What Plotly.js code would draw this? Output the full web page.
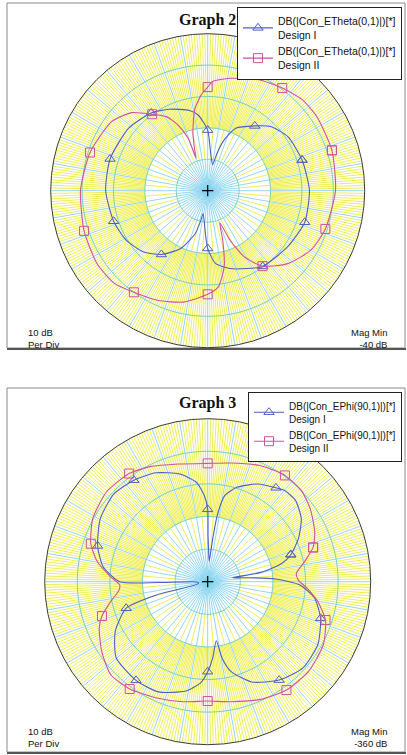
<!DOCTYPE html>
<html><head><meta charset="utf-8">
<script src="https://cdn.plot.ly/plotly-3.0.1.min.js"></script>
<style>html,body{margin:0;padding:0;background:#fff;overflow:hidden}#chart{width:407px;height:755px}</style>
</head><body><div id="chart"></div>
<script>
// ---------- data (angle in degrees, magnitude in dB) ----------
const MARKER_ANGLES = [18, 54, 90, 126, 162, 198, 234, 270, 306, 342];

const G2_NAME_I  = 'DB(|Con_ETheta(0,1)|)[*]<br>Design I';
const G2_NAME_II = 'DB(|Con_ETheta(0,1)|)[*]<br>Design II';
const G3_NAME_I  = 'DB(|Con_EPhi(90,1)|)[*]<br>Design I';
const G3_NAME_II = 'DB(|Con_EPhi(90,1)|)[*]<br>Design II';

const G2_THETA_I = [18,34,45.6,54,65.8,72,76,79.3,86.3,90,97.2,102.8,115.3,126,141.6,162,180,198,211,223.4,234,245,253.8,257,258.6,266.9,270,276.1,286,296.9,306,325,342,0.4];
const G2_DB_I    = [-8.4,-9.2,-11.4,-14.5,-18.2,-23,-27.7,-31.6,-27,-20.7,-15.7,-13.8,-11.3,-9.4,-7.9,-7.3,-7.5,-8.5,-9.6,-11.7,-14.9,-19.7,-25.8,-30.4,-32.6,-26.4,-21.6,-16.7,-14.2,-12.2,-10.2,-8.9,-7.5,-7.6];

const G2_THETA_II = [18,34.2,43.9,54,65.2,78.8,87.4,90,93.9,99.2,104.4,107.7,109.7,110.5,114.4,119.1,126,134.2,144.3,162,179.7,198,213.3,224.8,234,245.4,257.8,270,276.3,282.2,286.9,290.7,294.3,299,306,317.7,330,342,0];
const G2_DB_II    = [1.6,2.0,1.8,0.4,-1.1,-3.5,-5.2,-7.0,-9.4,-13.9,-21.1,-26.4,-29,-22.2,-17,-13,-9.9,-5.3,-2.3,-0.6,0.5,1.4,2.2,1.9,0.0,-1.6,-3.7,-7.0,-9.2,-15.2,-23.5,-29.1,-22.7,-15.9,-10.3,-5.5,-2.1,-0.6,0.7];

const G3_THETA_I = [18,25.4,33.9,42.8,49.8,54,62.8,72.8,78.8,81.8,83.3,85.9,88.5,89.6,90,92.2,96.5,104.5,115.5,126,136.9,149.6,162,171.9,180,181,182.5,192,194.5,198,208.3,219.7,234,246,258.7,266.1,270,273.8,278.3,280.6,284.5,293.7,306,317.9,330.3,342,351.2,358,2.2,5.5,9,9.9,13.8];
const G3_DB_I    = [-333.2,-329.2,-325.4,-323.3,-323.4,-324.4,-326.3,-329.7,-333.1,-339.4,-346.7,-353.7,-350,-345.8,-337.8,-333.6,-329.3,-325.9,-323,-321.5,-320.6,-321.8,-324.5,-327.6,-333,-345,-357,-357,-343.5,-333.7,-327.8,-323.5,-322.6,-323,-325.8,-329,-332.4,-336.6,-341.7,-336.3,-331.6,-326.4,-322.7,-320.6,-321.1,-323.6,-326.8,-331.7,-339.1,-347.3,-352.3,-343.4,-336.6];

const G3_THETA_II = [18,24.9,35.4,44.2,54,65.4,79,90,103.3,116.7,126,138.6,151.3,162,169.8,177.1,182.1,185.4,191.6,198,203.2,213.3,223.7,234,245.8,258.3,270,280.9,294.3,306,318.5,331.4,342,349.8,356.2,1,5.4,11.6];
const G3_DB_II    = [-326,-323.8,-321.4,-319.9,-319.7,-320.9,-322.9,-323.7,-322.9,-320.5,-319,-318.5,-319.8,-322.3,-325.6,-330.2,-333,-332.7,-329.6,-325.9,-323.8,-321.1,-318.8,-319.3,-321,-322.4,-323.4,-322.5,-320.4,-318.9,-318.6,-319.6,-322,-325.7,-329.4,-332.2,-332.7,-329.7];

const TITLES   = ['Graph 2', 'Graph 3'];
const MAG_MIN  = [-40, -360];
const PER_DIV  = 10;
const N_DIV    = 5;

// ---------- helpers ----------
const W = 407, H = 755;
const px = x => x / W;
const py = y => 1 - y / H;

const C_BLUE = '#4f5fc4', C_MAG = '#d2509e';
const C_YEL = '#ecec3a', C_CYAN = '#86d3ee', C_RING = '#74d0c4';

function gridTraces(sub, rmin) {
  const rmax = rmin + PER_DIV * N_DIV;
  const r1 = rmin + PER_DIV, r2 = rmin + 2 * PER_DIV;
  const yr = [], yt = [];
  for (let a = 0; a < 360; a += 1) {
    if (a % 10 === 0) continue;
    yr.push(a % 5 === 0 ? r1 : r2, rmax, null); yt.push(a, a, null);
  }
  const cr = [], ct = [];
  for (let a = 0; a < 360; a += 5) {
    cr.push(rmin, a % 10 === 0 ? rmax : r1, null); ct.push(a, a, null);
  }
  const rr = [], rt = [];
  for (let k = 1; k < N_DIV; k++) {
    const v = rmin + k * PER_DIV;
    for (let a = 0; a <= 360; a += 2) { rr.push(v); rt.push(a); }
    rr.push(null); rt.push(null);
  }
  const base = {type: 'scatterpolar', subplot: sub, mode: 'lines', hoverinfo: 'skip', showlegend: false};
  return [
    Object.assign({}, base, {r: yr, theta: yt, line: {color: C_YEL, width: 0.9}}),
    Object.assign({}, base, {r: cr, theta: ct, line: {color: C_CYAN, width: 0.9}}),
    Object.assign({}, base, {r: rr, theta: rt, line: {color: C_RING, width: 1}}),
    {type: 'scatterpolar', subplot: sub, mode: 'markers', r: [rmin], theta: [0], hoverinfo: 'skip', showlegend: false,
     marker: {symbol: 'cross-thin', size: 8, color: '#000', line: {color: '#000', width: 1.2}}}
  ];
}

function series(sub, legend, name, theta, r, color, symbol) {
  const t = theta.concat([theta[0]]);
  const v = r.concat([r[0]]);
  const mc = t.map(a => MARKER_ANGLES.includes(a) ? color : 'rgba(0,0,0,0)');
  return {type: 'scatterpolar', subplot: sub, legend: legend, name: name, theta: t, r: v,
          mode: 'lines+markers', line: {color: color, width: 1.1, shape: 'spline', smoothing: 0.6},
          marker: {symbol: symbol, size: 9, color: mc, line: {color: mc, width: 1}},
          hoverinfo: 'name'};
}

const traces = [].concat(
  gridTraces('polar', MAG_MIN[0]),
  [series('polar', 'legend', G2_NAME_I, G2_THETA_I, G2_DB_I, C_BLUE, 'triangle-up-open'),
   series('polar', 'legend', G2_NAME_II, G2_THETA_II, G2_DB_II, C_MAG, 'square-open')],
  gridTraces('polar2', MAG_MIN[1]),
  [series('polar2', 'legend2', G3_NAME_I, G3_THETA_I, G3_DB_I, C_BLUE, 'triangle-up-open'),
   series('polar2', 'legend2', G3_NAME_II, G3_THETA_II, G3_DB_II, C_MAG, 'square-open')]
);

function polarLayout(cx, cy, rad, rmin) {
  return {
    domain: {x: [px(cx - rad), px(cx + rad)], y: [py(cy + rad), py(cy - rad)]},
    bgcolor: '#ffffff',
    radialaxis: {range: [rmin, rmin + PER_DIV * N_DIV], visible: false},
    angularaxis: {showgrid: false, showticklabels: false, ticks: '', showline: true,
                  linecolor: '#3a3a3a', linewidth: 1, rotation: 0, direction: 'counterclockwise'}
  };
}

const sans = 'Liberation Sans, Arial, sans-serif';
const serif = 'Liberation Serif, Times New Roman, serif';

function panelAnn(titleY, textY, idx) {
  return [
    {text: '<b>' + TITLES[idx] + '</b>', x: px(207), y: py(titleY), xref: 'paper', yref: 'paper',
     xanchor: 'center', yanchor: 'middle', showarrow: false, font: {family: serif, size: 16, color: '#111'}},
    {text: PER_DIV + ' dB<br>Per Div', x: px(26), y: py(textY), xref: 'paper', yref: 'paper',
     xanchor: 'left', yanchor: 'middle', align: 'left', showarrow: false, font: {family: sans, size: 9.5, color: '#111'}},
    {text: 'Mag Min<br>' + MAG_MIN[idx] + ' dB', x: px(389), y: py(textY), xref: 'paper', yref: 'paper',
     xanchor: 'right', yanchor: 'middle', align: 'right', showarrow: false, font: {family: sans, size: 9.5, color: '#111'}}
  ];
}

function frame(top, bottom) {
  return [
    {type: 'rect', xref: 'paper', yref: 'paper', x0: px(7), x1: px(405), y0: py(bottom), y1: py(top),
     line: {color: '#8a8a8a', width: 1}, fillcolor: 'rgba(0,0,0,0)', layer: 'below'},
    {type: 'line', xref: 'paper', yref: 'paper', x0: px(7), x1: px(406), y0: py(bottom + 1), y1: py(bottom + 1),
     line: {color: '#555', width: 2}, layer: 'below'}
  ];
}

const layout = {
  width: W, height: H, margin: {l: 0, r: 0, t: 0, b: 0},
  paper_bgcolor: '#ffffff', showlegend: true,
  polar: polarLayout(207.7, 190.7, 157, MAG_MIN[0]),
  polar2: polarLayout(207.7, 581.7, 163, MAG_MIN[1]),
  legend: {x: px(237), y: py(6.7), xanchor: 'left', yanchor: 'top', bgcolor: '#ffffff',
           bordercolor: '#222', borderwidth: 1, font: {family: sans, size: 10.5, color: '#111'}},
  legend2: {x: px(248), y: py(391.7), xanchor: 'left', yanchor: 'top', bgcolor: '#ffffff',
            bordercolor: '#222', borderwidth: 1, font: {family: sans, size: 10, color: '#111'}},
  annotations: [].concat(panelAnn(19.5, 338.5, 0), panelAnn(403, 737.5, 1)),
  shapes: [].concat(frame(3, 348), frame(388, 752))
};

Plotly.newPlot('chart', traces, layout, {staticPlot: true, displayModeBar: false});
</script>
</body></html>
